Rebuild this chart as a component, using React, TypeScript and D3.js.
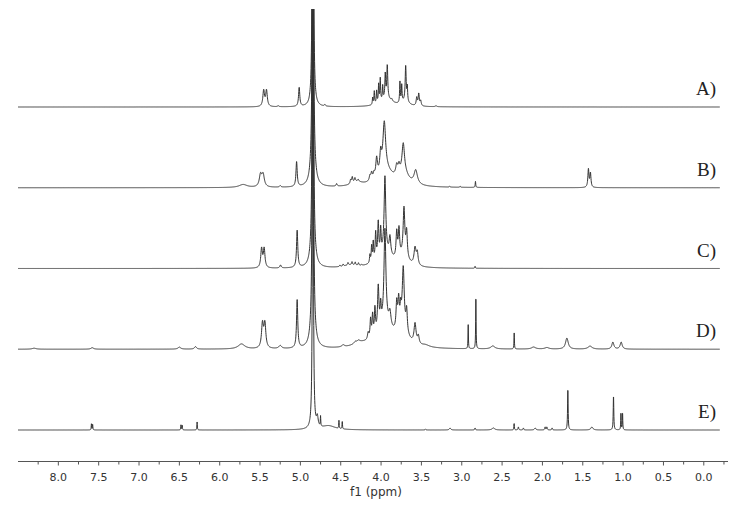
import React from 'react';
import * as d3 from 'd3';

// stacked 1H NMR spectra
// each peak: [ppm, height above baseline (px), half width (ppm)]
type Peak = [number, number, number];

const labels = ['A)', 'B)', 'C)', 'D)', 'E)'];

const peaksA: Peak[] = [
  [5.455, 16, 0.012], [5.42, 16, 0.012], [5.275, 1, 0.01], [5.015, 19, 0.009],
  [4.845, 600, 0.006], [4.696, 1.5, 0.008],
  [3.93, 8, 0.09], [3.7, 5, 0.05],
  [4.104, 7, 0.005], [4.084, 13, 0.005], [4.055, 13, 0.005], [4.03, 18, 0.005],
  [4.01, 23, 0.005], [3.98, 14, 0.005], [3.948, 24, 0.006], [3.923, 33, 0.007],
  [3.866, 2, 0.008], [3.766, 21, 0.005], [3.744, 17, 0.005], [3.695, 35, 0.007],
  [3.675, 14, 0.005], [3.558, 8, 0.008], [3.533, 12, 0.008], [3.509, 5, 0.008],
  [3.319, 1, 0.01],
];

const peaksB: Peak[] = [
  [5.71, 3, 0.06], [5.494, 12, 0.018], [5.462, 12, 0.018], [5.25, 1.5, 0.01],
  [5.047, 25, 0.009], [4.845, 600, 0.006], [4.845, 25, 0.03], [4.551, 2.5, 0.008],
  [4.3, 4, 0.08], [4.377, 4, 0.008], [4.357, 6, 0.008], [4.324, 4, 0.008], [4.283, 2, 0.008],
  [3.95, 16, 0.12], [3.72, 12, 0.07], [3.57, 8, 0.03],
  [4.138, 5, 0.01], [4.117, 7, 0.01], [4.088, 5, 0.01], [4.055, 18, 0.012],
  [4.005, 18, 0.012], [3.96, 48, 0.02], [3.806, 10, 0.015], [3.778, 8, 0.012],
  [3.725, 28, 0.018], [3.571, 6, 0.02],
  [3.15, 1, 0.005], [3.02, 1, 0.005], [2.83, 6, 0.004], [1.43, 18, 0.008], [1.405, 14, 0.008],
];

const peaksC: Peak[] = [
  [5.481, 19, 0.012], [5.449, 19, 0.012], [5.246, 3, 0.01], [5.04, 37, 0.009],
  [4.845, 600, 0.006], [4.845, 20, 0.03],
  [4.38, 2.5, 0.1], [4.51, 1.5, 0.006], [4.47, 2, 0.006], [4.41, 2.5, 0.006],
  [4.36, 3, 0.006], [4.32, 3, 0.006], [4.28, 2.5, 0.006], [4.24, 1, 0.006],
  [3.95, 14, 0.11], [3.72, 10, 0.06],
  [4.138, 8, 0.006], [4.117, 16, 0.006], [4.097, 19, 0.006], [4.067, 27, 0.007],
  [4.035, 35, 0.008], [4.005, 25, 0.007], [3.952, 76, 0.012], [3.89, 18, 0.012],
  [3.806, 26, 0.01], [3.778, 28, 0.01], [3.716, 46, 0.012], [3.683, 25, 0.01],
  [3.579, 17, 0.015], [3.551, 12, 0.012], [2.835, 2, 0.004],
];

const peaksD: Peak[] = [
  [8.3, 1, 0.03], [7.58, 1.5, 0.02], [6.5, 2, 0.02], [6.3, 2.5, 0.015], [5.73, 5, 0.05],
  [5.47, 24, 0.014], [5.44, 24, 0.014], [5.25, 3, 0.02], [5.04, 48, 0.009],
  [4.845, 600, 0.006], [4.845, 25, 0.03],
  [4.47, 2, 0.02], [4.32, 2, 0.02], [4.28, 2, 0.02], [4.25, 4, 0.12],
  [3.95, 22, 0.11], [3.74, 18, 0.07], [3.45, 2, 0.06],
  [4.16, 7, 0.01], [4.13, 19, 0.008], [4.105, 22, 0.008], [4.076, 26, 0.008],
  [4.035, 44, 0.01], [4.005, 20, 0.008], [3.952, 94, 0.014], [3.89, 14, 0.015],
  [3.806, 26, 0.01], [3.782, 26, 0.01], [3.757, 14, 0.008], [3.725, 58, 0.014],
  [3.683, 22, 0.01], [3.579, 20, 0.015], [3.538, 8, 0.012],
  [2.92, 24, 0.003], [2.825, 55, 0.003], [2.615, 3, 0.03], [2.35, 16, 0.003],
  [2.11, 2, 0.03], [1.945, 1.5, 0.03], [1.697, 11, 0.02], [1.41, 3, 0.03],
  [1.127, 7, 0.015], [1.024, 7, 0.015],
];

const peaksE: Peak[] = [
  [7.59, 6, 0.003], [7.575, 6, 0.003], [6.48, 5, 0.003], [6.465, 5, 0.003], [6.28, 8, 0.003],
  [4.845, 600, 0.005], [4.79, 10, 0.012], [4.75, 10, 0.003], [4.65, 4, 0.1],
  [4.522, 8, 0.003], [4.481, 8, 0.003],
  [3.45, 1, 0.005], [3.145, 2, 0.01], [2.835, 2, 0.005], [2.608, 2, 0.02],
  [2.351, 7, 0.003], [2.298, 3, 0.005], [2.236, 2, 0.005], [2.09, 2, 0.01],
  [1.967, 3, 0.005], [1.945, 3, 0.005], [1.88, 2, 0.005], [1.685, 42, 0.004],
  [1.387, 3, 0.015], [1.119, 35, 0.004], [1.027, 18, 0.003], [1.007, 18, 0.003],
];

const spectra = [peaksA, peaksB, peaksC, peaksD, peaksE];

const majorTicks = [8.0, 7.5, 7.0, 6.5, 6.0, 5.5, 5.0, 4.5, 4.0, 3.5, 3.0, 2.5, 2.0, 1.5, 1.0, 0.5, 0.0];
const minorTicks = [8.25, 7.75, 7.25, 6.75, 6.25, 5.75, 5.25, 4.75, 4.25, 3.75, 3.25, 2.75, 2.25, 1.75, 1.25, 0.75, 0.25, -0.25];

const W = 732;
const H = 506;
const axisY = 461.5;

const x = d3.scaleLinear().domain([8.5, -0.3]).range([18, 728]);
const offset = d3.scalePoint<string>().domain(labels).range([107, 430]);
const amp = d3.scaleLinear().domain([0, 100]).range([0, 100]);

// sum of lorentzian lines, sampled along the ppm axis
const grid = d3.range(8.5, -0.2, -0.002);
const intensity = (peaks: Peak[], p: number) =>
  d3.sum(peaks, ([c, h, g]) => (h * g * g) / ((p - c) * (p - c) + g * g));

export default function App() {
  return (
    <svg width={W} height={H} style={{ position: 'absolute', left: 0, top: 0, background: '#fff' }}>
      <defs>
        <clipPath id="plot">
          <rect x={0} y={9} width={W} height={axisY - 9} />
        </clipPath>
      </defs>
      <g clipPath="url(#plot)">
        {spectra.map((peaks, i) => {
          const base = offset(labels[i])!;
          const line = d3
            .line<number>()
            .x(p => x(p))
            .y(p => base - amp(intensity(peaks, p)));
          return (
            <path key={i} d={line(grid) ?? ''} fill="none" stroke="#333" strokeWidth={1} />
          );
        })}
      </g>
      {labels.map(l => (
        <text
          key={l}
          x={716}
          y={offset(l)! - 12}
          textAnchor="end"
          fontFamily="'Liberation Serif', serif"
          fontSize={19}
          fill="#222"
        >
          {l}
        </text>
      ))}
      <g>
        <line x1={18} x2={728} y1={axisY} y2={axisY} stroke="#555" />
        {majorTicks.map(t => (
          <g key={t} transform={`translate(${x(t)},${axisY})`}>
            <line y2={4} stroke="#555" />
            <text
              y={19.5}
              textAnchor="middle"
              fontFamily="'DejaVu Sans', sans-serif"
              fontSize={11}
              fill="#333"
            >
              {t.toFixed(1)}
            </text>
          </g>
        ))}
        {minorTicks.map(t => (
          <line key={t} x1={x(t)} x2={x(t)} y1={axisY} y2={axisY + 3} stroke="#555" />
        ))}
        <text
          x={376}
          y={496}
          textAnchor="middle"
          fontFamily="'DejaVu Sans', sans-serif"
          fontSize={12}
          fill="#333"
        >
          f1 (ppm)
        </text>
      </g>
    </svg>
  );
}
